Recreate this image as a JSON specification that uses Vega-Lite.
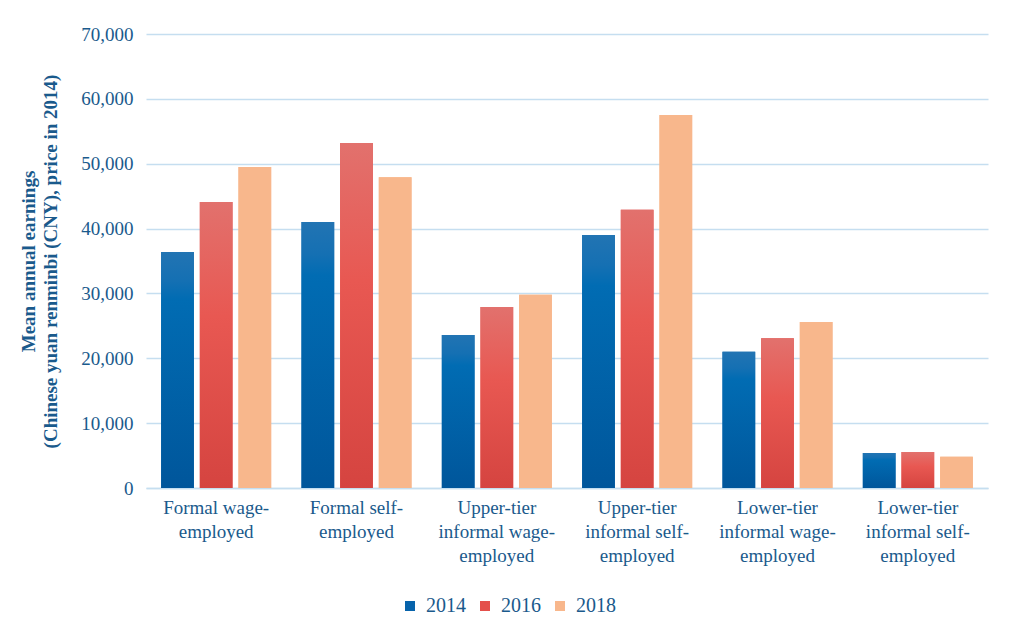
{
  "$schema": "https://vega.github.io/schema/vega-lite/v6.json",
  "width": 842,
  "height": 454,
  "autosize": {"type": "none"},
  "padding": {"left": 146, "top": 34, "right": 28, "bottom": 141},
  "background": "white",
  "config": {
    "font": "Liberation Serif",
    "view": {"stroke": null},
    "axis": {"labelColor": "#1a5a8c", "titleColor": "#1a5a8c", "labelFont": "Liberation Serif", "titleFont": "Liberation Serif"},
    "legend": {"labelColor": "#1a5a8c", "labelFont": "Liberation Serif"}
  },
  "data": {
    "values": [
      {"category": "Formal wage-employed", "year": "2014", "earnings": 36400},
      {"category": "Formal wage-employed", "year": "2016", "earnings": 44100},
      {"category": "Formal wage-employed", "year": "2018", "earnings": 49500},
      {"category": "Formal self-employed", "year": "2014", "earnings": 41000},
      {"category": "Formal self-employed", "year": "2016", "earnings": 53200},
      {"category": "Formal self-employed", "year": "2018", "earnings": 47900},
      {"category": "Upper-tier informal wage-employed", "year": "2014", "earnings": 23600},
      {"category": "Upper-tier informal wage-employed", "year": "2016", "earnings": 27900},
      {"category": "Upper-tier informal wage-employed", "year": "2018", "earnings": 29800},
      {"category": "Upper-tier informal self-employed", "year": "2014", "earnings": 39000},
      {"category": "Upper-tier informal self-employed", "year": "2016", "earnings": 42900},
      {"category": "Upper-tier informal self-employed", "year": "2018", "earnings": 57500},
      {"category": "Lower-tier informal wage-employed", "year": "2014", "earnings": 21000},
      {"category": "Lower-tier informal wage-employed", "year": "2016", "earnings": 23100},
      {"category": "Lower-tier informal wage-employed", "year": "2018", "earnings": 25600},
      {"category": "Lower-tier informal self-employed", "year": "2014", "earnings": 5400},
      {"category": "Lower-tier informal self-employed", "year": "2016", "earnings": 5550},
      {"category": "Lower-tier informal self-employed", "year": "2018", "earnings": 4800}
    ]
  },
  "encoding": {
    "x": {
      "field": "category",
      "type": "nominal",
      "sort": null,
      "scale": {"paddingInner": 0.216, "paddingOuter": 0.108},
      "axis": {
        "title": null,
        "labelAngle": 0,
        "labelFont": "Liberation Serif",
        "labelFontSize": 19,
        "labelLineHeight": 24,
        "labelPadding": 10,
        "ticks": false,
        "tickSize": 0,
        "domainColor": "#c5def0",
        "domainWidth": 1.5,
        "labelExpr": "datum.value == 'Formal wage-employed' ? ['Formal wage-','employed'] : datum.value == 'Formal self-employed' ? ['Formal self-','employed'] : datum.value == 'Upper-tier informal wage-employed' ? ['Upper-tier','informal wage-','employed'] : datum.value == 'Upper-tier informal self-employed' ? ['Upper-tier','informal self-','employed'] : datum.value == 'Lower-tier informal wage-employed' ? ['Lower-tier','informal wage-','employed'] : ['Lower-tier','informal self-','employed']"
      }
    },
    "xOffset": {
      "field": "year",
      "type": "nominal",
      "scale": {"domain": ["2014", "2016", "2018"], "paddingInner": 0.154, "paddingOuter": 0}
    },
    "y": {
      "field": "earnings",
      "type": "quantitative",
      "scale": {"domain": [0, 70000], "nice": false},
      "axis": {
        "values": [0, 10000, 20000, 30000, 40000, 50000, 60000, 70000],
        "format": ",.0f",
        "title": ["Mean annual earnings", "(Chinese yuan renminbi (CNY), price in 2014)"],
        "titleFont": "Liberation Serif",
        "titleFontSize": 19,
        "titleFontWeight": "bold",
        "titleLineHeight": 22,
        "titlePadding": 20,
        "labelFont": "Liberation Serif",
        "labelFontSize": 19,
        "labelPadding": 13,
        "ticks": false,
        "tickSize": 0,
        "domain": false,
        "gridColor": "#c5def0",
        "gridWidth": 1.5
      }
    }
  },
  "layer": [
    {
      "mark": {"type": "bar"},
      "encoding": {
        "color": {
          "field": "year",
          "type": "nominal",
          "scale": {"domain": ["2014", "2016", "2018"], "range": ["#0763ab", "#e4504b", "#f8b78c"]},
          "legend": {
            "title": null,
            "orient": "none",
            "direction": "horizontal",
            "legendX": 254,
            "legendY": 562,
            "symbolType": "square",
            "symbolSize": 100,
            "symbolStrokeWidth": 0,
            "labelFont": "Liberation Serif",
            "labelFontSize": 20,
            "labelOffset": 6,
            "columnPadding": 9
          }
        }
      }
    },
    {
      "transform": [{"filter": "datum.year == '2014'"}],
      "mark": {
        "type": "bar",
        "color": {
          "gradient": "linear", "x1": 0, "y1": 0, "x2": 0, "y2": 1,
          "stops": [
            {"offset": 0, "color": "#2274b3"},
            {"offset": 0.12, "color": "#1570b3"},
            {"offset": 0.2, "color": "#016cb3"},
            {"offset": 1, "color": "#00569b"}
          ]
        }
      },
      "encoding": {}
    },
    {
      "transform": [{"filter": "datum.year == '2016'"}],
      "mark": {
        "type": "bar",
        "color": {
          "gradient": "linear", "x1": 0, "y1": 0, "x2": 0, "y2": 1,
          "stops": [
            {"offset": 0, "color": "#e2716d"},
            {"offset": 0.4, "color": "#e85852"},
            {"offset": 1, "color": "#d54440"}
          ]
        }
      },
      "encoding": {}
    },
    {
      "transform": [{"filter": "datum.year == '2018'"}],
      "mark": {"type": "bar", "color": "#f8b78c"},
      "encoding": {}
    }
  ]
}
